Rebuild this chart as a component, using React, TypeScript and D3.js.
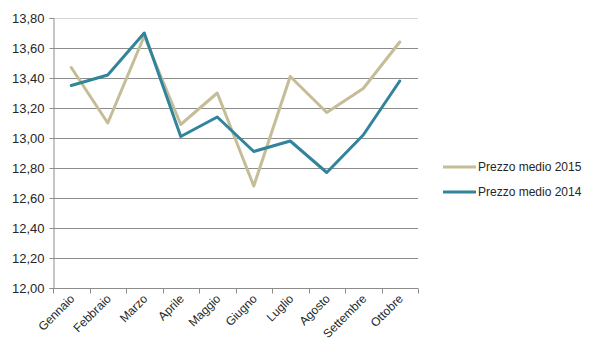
import { useEffect, useRef } from 'react'
import * as d3 from 'd3'

// ─── Data ────────────────────────────────────────────────────────────────────

const months = [
  'Gennaio', 'Febbraio', 'Marzo', 'Aprile', 'Maggio',
  'Giugno', 'Luglio', 'Agosto', 'Settembre', 'Ottobre',
]
const prezzo2015 = [13.47, 13.1, 13.68, 13.09, 13.3, 12.68, 13.41, 13.17, 13.33, 13.64]
const prezzo2014 = [13.35, 13.42, 13.7, 13.01, 13.14, 12.91, 12.98, 12.77, 13.02, 13.38]
const yTicks = [12.0, 12.2, 12.4, 12.6, 12.8, 13.0, 13.2, 13.4, 13.6, 13.8]

const series = [
  { label: 'Prezzo medio 2015', values: prezzo2015, color: '#C4BD97' },
  { label: 'Prezzo medio 2014', values: prezzo2014, color: '#31849B' },
]

const FONT = '"Liberation Sans", Arial, sans-serif'

export default function App() {
  const ref = useRef<SVGSVGElement>(null)

  useEffect(() => {
    if (!ref.current) return
    const W = 600
    const H = 360
    const margin = { top: 18, right: 182, bottom: 72, left: 53 }
    const inner = { w: W - margin.left - margin.right, h: H - margin.top - margin.bottom }

    const svg = d3.select(ref.current)
    svg.selectAll('*').remove()
    svg.attr('width', W).attr('height', H).attr('viewBox', `0 0 ${W} ${H}`)
      .style('font-family', FONT)

    const g = svg.append('g').attr('transform', `translate(${margin.left},${margin.top})`)

    const x = d3.scaleBand().domain(months).range([0, inner.w]).padding(0)
    const y = d3.scaleLinear().domain([12, 13.8]).range([inner.h, 0])

    // gridlines
    g.append('g')
      .selectAll('line')
      .data(yTicks.slice(1))
      .join('line')
      .attr('x1', 0)
      .attr('x2', inner.w)
      .attr('y1', (d) => Math.round(y(d)) + 0.5)
      .attr('y2', (d) => Math.round(y(d)) + 0.5)
      .attr('stroke', (d) => (d === 13.8 ? '#d4d4d4' : '#8c8c8c'))
      .attr('stroke-width', 1)

    // y axis
    g.append('g')
      .attr('transform', 'translate(0.5,0)')
      .call(
        d3.axisLeft(y)
          .tickValues(yTicks)
          .tickSize(4)
          .tickPadding(5)
          .tickFormat((v) => d3.format('.2f')(v as number).replace('.', ','))
      )
      .call((sel) => sel.select('.domain').attr('stroke', '#8c8c8c'))
      .call((sel) => sel.selectAll('line').attr('stroke', '#8c8c8c'))
      .call((sel) =>
        sel.selectAll('text')
          .attr('font-size', 13)
          .attr('font-family', FONT)
          .attr('fill', '#262626')
      )

    // x axis
    const xa = g.append('g').attr('transform', `translate(0,${Math.round(inner.h) + 0.5})`)
    xa.append('line').attr('x1', 0).attr('x2', inner.w).attr('stroke', '#8c8c8c')
    xa.selectAll('.tick')
      .data(d3.range(months.length + 1))
      .join('line')
      .attr('x1', (i) => Math.round(i * x.step()) + 0.5)
      .attr('x2', (i) => Math.round(i * x.step()) + 0.5)
      .attr('y1', 0)
      .attr('y2', 5)
      .attr('stroke', '#8c8c8c')
    xa.selectAll('text')
      .data(months)
      .join('text')
      .attr('transform', (d) => `translate(${x(d)! + x.bandwidth() / 2 + 4},${11}) rotate(-45)`)
      .attr('text-anchor', 'end')
      .attr('font-size', 12)
      .attr('fill', '#262626')
      .text((d) => d)

    // lines
    const line = d3.line<number>()
      .x((_, i) => x(months[i])! + x.bandwidth() / 2)
      .y((d) => y(d))

    series.forEach((s) => {
      g.append('path')
        .datum(s.values)
        .attr('d', line)
        .attr('fill', 'none')
        .attr('stroke', s.color)
        .attr('stroke-width', 3)
        .attr('stroke-linejoin', 'round')
        .attr('stroke-linecap', 'round')
    })

    // legend
    const lx = 443
    series.forEach((s, i) => {
      const ly = 167 + i * 25
      svg.append('line')
        .attr('x1', lx)
        .attr('x2', lx + 33)
        .attr('y1', ly)
        .attr('y2', ly)
        .attr('stroke', s.color)
        .attr('stroke-width', 3)
      svg.append('text')
        .attr('x', lx + 35)
        .attr('y', ly + 4)
        .attr('font-size', 12)
        .attr('fill', '#262626')
        .text(s.label)
    })
  }, [])

  return (
    <svg
      ref={ref}
      style={{ position: 'absolute', left: 0, top: 0, display: 'block', background: '#fff' }}
    />
  )
}
